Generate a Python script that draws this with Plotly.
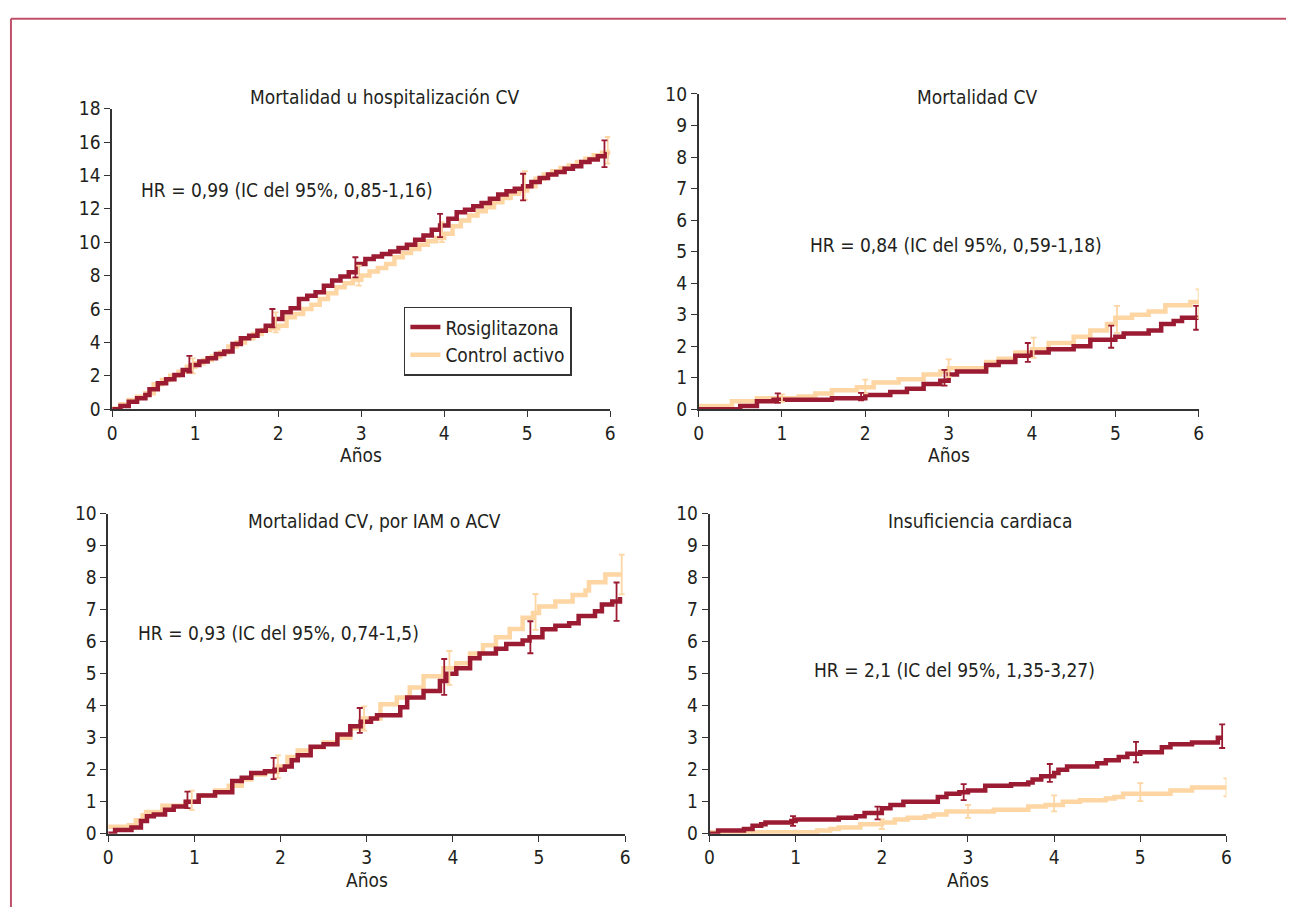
import plotly.graph_objects as go

W, H = 1291, 918
ROSI = "#9b1b33"
CTRL = "#fdd6a3"
FONT = "Liberation Sans Narrow, DejaVu Sans Condensed, Arial Narrow, sans-serif"
TXT = "#231f20"

# ---------------- data ----------------
# Panel 1: Mortalidad u hospitalización CV
p1_rosi_t = [0, 0.1, 0.2, 0.3, 0.4, 0.45, 0.55, 0.65, 0.75, 0.85, 0.95, 1.05, 1.15, 1.25, 1.35, 1.45, 1.55, 1.65, 1.75, 1.85, 1.95,
             2.05, 2.15, 2.25, 2.35, 2.45, 2.55, 2.65, 2.75, 2.85, 2.95, 3.05, 3.15, 3.25, 3.35, 3.45, 3.55, 3.65, 3.75, 3.85, 3.95,
             4.05, 4.15, 4.25, 4.35, 4.45, 4.55, 4.65, 4.75, 4.85, 4.95, 5.05, 5.15, 5.25, 5.35, 5.45, 5.55, 5.65, 5.75, 5.85, 5.95]
p1_rosi_y = [0, 0.2, 0.45, 0.65, 0.85, 1.2, 1.55, 1.8, 2.05, 2.35, 2.65, 2.85, 3.05, 3.3, 3.45, 3.9, 4.25, 4.4, 4.7, 5.0, 5.4,
             5.8, 6.05, 6.6, 6.8, 7.0, 7.4, 7.7, 7.95, 8.2, 8.7, 9.0, 9.15, 9.3, 9.45, 9.65, 9.85, 10.15, 10.4, 10.75, 11.0,
             11.4, 11.8, 11.95, 12.15, 12.35, 12.6, 12.85, 13.05, 13.2, 13.35, 13.6, 13.85, 14.05, 14.2, 14.4, 14.55, 14.8, 14.95, 15.15, 15.4]
p1_ctrl_t = [0, 0.1, 0.2, 0.3, 0.4, 0.5, 0.6, 0.7, 0.8, 0.9, 1.0, 1.1, 1.2, 1.3, 1.4, 1.5, 1.6, 1.7, 1.8, 1.9, 2.0,
             2.1, 2.2, 2.3, 2.4, 2.5, 2.6, 2.7, 2.8, 2.9, 3.0, 3.1, 3.2, 3.3, 3.4, 3.5, 3.6, 3.7, 3.8, 3.9, 4.0,
             4.1, 4.2, 4.3, 4.4, 4.5, 4.6, 4.7, 4.8, 4.9, 5.0, 5.1, 5.2, 5.3, 5.4, 5.5, 5.6, 5.7, 5.8, 5.9, 6.0]
p1_ctrl_y = [0.05, 0.3, 0.55, 0.75, 0.95, 1.5, 1.75, 2.0, 2.25, 2.55, 2.75, 2.95, 3.15, 3.4, 3.75, 4.0, 4.25, 4.5, 4.75, 4.85, 5.0,
             5.5, 5.7, 6.0, 6.25, 6.6, 6.95, 7.3, 7.55, 7.75, 8.0, 8.25, 8.45, 8.7, 9.1, 9.35, 9.6, 9.85, 10.05, 10.25, 10.5,
             10.95, 11.3, 11.6, 11.85, 12.1, 12.4, 12.65, 12.9, 13.1, 13.35, 13.8, 14.05, 14.25, 14.45, 14.6, 14.8, 15.0, 15.2, 15.35, 15.5]
p1_rosi_ci_t = [0.93, 1.93, 2.93, 3.95, 4.95, 5.93]
p1_rosi_ci_y = [2.7, 5.45, 8.5, 11.0, 13.3, 15.3]
p1_rosi_ci_e = [0.5, 0.55, 0.6, 0.7, 0.8, 0.8]
p1_ctrl_ci_t = [0.97, 1.97, 2.97, 3.97, 4.97, 5.97]
p1_ctrl_ci_y = [2.6, 5.2, 8.0, 10.6, 13.4, 15.5]
p1_ctrl_ci_e = [0.45, 0.6, 0.6, 0.6, 0.85, 0.8]

# Panel 2: Mortalidad CV
p2_rosi_t = [0, 0.5, 0.7, 0.9, 1.6, 2.0, 2.3, 2.5, 2.7, 2.9, 3.0, 3.1, 3.45, 3.6, 3.8, 4.0, 4.2, 4.5, 4.7, 5.0, 5.1, 5.4, 5.55, 5.7, 5.8, 6.0]
p2_rosi_y = [0, 0.1, 0.25, 0.3, 0.35, 0.45, 0.55, 0.65, 0.8, 0.9, 1.1, 1.2, 1.4, 1.5, 1.7, 1.8, 1.9, 2.0, 2.2, 2.3, 2.4, 2.5, 2.7, 2.8, 2.9, 2.9]
p2_ctrl_t = [0, 0.4, 0.7, 1.2, 1.4, 1.6, 1.9, 2.1, 2.4, 2.7, 2.9, 3.0, 3.45, 3.6, 3.8, 4.0, 4.2, 4.5, 4.7, 4.9, 5.0, 5.2, 5.4, 5.6, 5.9, 6.0]
p2_ctrl_y = [0.1, 0.25, 0.35, 0.4, 0.5, 0.6, 0.7, 0.85, 0.95, 1.1, 1.2, 1.3, 1.5, 1.6, 1.8, 1.9, 2.1, 2.3, 2.5, 2.7, 2.9, 3.0, 3.1, 3.3, 3.4, 3.4]
p2_rosi_ci_t = [0.95, 1.95, 2.95, 3.95, 4.95, 5.97]
p2_rosi_ci_y = [0.35, 0.4, 1.0, 1.8, 2.3, 2.9]
p2_rosi_ci_e = [0.15, 0.12, 0.25, 0.3, 0.35, 0.38]
p2_ctrl_ci_t = [1.0, 2.0, 3.0, 4.02, 5.02, 6.0]
p2_ctrl_ci_y = [0.35, 0.72, 1.3, 1.95, 2.85, 3.35]
p2_ctrl_ci_e = [0.12, 0.22, 0.28, 0.32, 0.43, 0.45]

# Panel 3: Mortalidad CV, por IAM o ACV
p3_rosi_t = [0, 0.08, 0.27, 0.38, 0.45, 0.53, 0.66, 0.76, 0.9, 1.05, 1.24, 1.44, 1.55, 1.66, 1.82, 1.93, 2.05, 2.13, 2.2, 2.35, 2.5,
             2.66, 2.81, 2.93, 3.05, 3.12, 3.39, 3.47, 3.66, 3.85, 3.93, 4.04, 4.2, 4.31, 4.5, 4.62, 4.81, 4.89, 5.04, 5.19, 5.35,
             5.46, 5.65, 5.73, 5.85, 5.94]
p3_rosi_y = [0, 0.12, 0.2, 0.4, 0.55, 0.6, 0.75, 0.85, 1.0, 1.2, 1.3, 1.65, 1.75, 1.9, 1.95, 2.0, 2.1, 2.3, 2.45, 2.72, 2.8,
             3.1, 3.36, 3.5, 3.6, 3.7, 3.95, 4.26, 4.46, 4.77, 5.0, 5.17, 5.48, 5.63, 5.78, 5.93, 6.04, 6.14, 6.39, 6.5, 6.58,
             6.8, 6.95, 7.16, 7.26, 7.4]
p3_ctrl_t = [0, 0.24, 0.32, 0.4, 0.44, 0.63, 0.9, 1.05, 1.24, 1.4, 1.55, 1.66, 1.82, 1.97, 2.08, 2.2, 2.35, 2.5, 2.66, 2.81,
             2.96, 3.16, 3.35, 3.5, 3.66, 3.89, 4.04, 4.2, 4.35, 4.5, 4.66, 4.81, 4.93, 5.0, 5.19, 5.39, 5.54, 5.58, 5.77, 5.96]
p3_ctrl_y = [0.22, 0.27, 0.42, 0.58, 0.68, 0.88, 1.0, 1.2, 1.35, 1.5, 1.7, 1.85, 1.93, 2.1, 2.4, 2.6, 2.7, 2.85, 3.0, 3.3,
             3.6, 4.05, 4.26, 4.57, 4.92, 5.17, 5.33, 5.63, 5.89, 6.14, 6.4, 6.75, 6.9, 7.1, 7.26, 7.46, 7.6, 7.86, 8.1, 8.1]
p3_rosi_ci_t = [0.92, 1.92, 2.92, 3.9, 4.9, 5.9]
p3_rosi_ci_y = [1.06, 2.04, 3.54, 4.9, 6.14, 7.25]
p3_rosi_ci_e = [0.26, 0.33, 0.39, 0.56, 0.5, 0.6]
p3_ctrl_ci_t = [0.97, 1.97, 2.97, 3.96, 4.96, 5.96]
p3_ctrl_ci_y = [1.05, 2.1, 3.6, 5.18, 6.93, 8.1]
p3_ctrl_ci_e = [0.3, 0.35, 0.38, 0.53, 0.56, 0.62]

# Panel 4: Insuficiencia cardiaca
p4_rosi_t = [0, 0.1, 0.4, 0.5, 0.6, 0.65, 0.95, 1.0, 1.5, 1.7, 1.8, 2.0, 2.1, 2.25, 2.65, 2.75, 2.9, 3.0, 3.2, 3.5, 3.7, 3.75, 3.85, 4.0, 4.05, 4.15, 4.5, 4.6, 4.75, 4.85, 5.0, 5.25, 5.35, 5.6, 5.9, 5.95]
p4_rosi_y = [0, 0.1, 0.15, 0.25, 0.3, 0.35, 0.4, 0.45, 0.5, 0.55, 0.65, 0.8, 0.9, 1.0, 1.15, 1.25, 1.3, 1.35, 1.5, 1.55, 1.6, 1.7, 1.8, 1.9, 2.0, 2.1, 2.2, 2.3, 2.4, 2.5, 2.55, 2.7, 2.8, 2.85, 3.0, 3.0]
p4_ctrl_t = [0, 1.2, 1.25, 1.4, 1.5, 1.75, 2.0, 2.15, 2.3, 2.5, 2.6, 2.75, 3.3, 3.7, 3.9, 4.1, 4.3, 4.6, 4.7, 4.8, 5.0, 5.35, 5.6, 6.0]
p4_ctrl_y = [0.05, 0.05, 0.1, 0.15, 0.2, 0.3, 0.35, 0.45, 0.5, 0.55, 0.6, 0.7, 0.75, 0.85, 0.9, 1.0, 1.05, 1.1, 1.15, 1.25, 1.25, 1.35, 1.45, 1.45]
p4_rosi_ci_t = [0.97, 1.95, 2.95, 3.95, 4.95, 5.95]
p4_rosi_ci_y = [0.4, 0.65, 1.3, 1.9, 2.55, 3.05]
p4_rosi_ci_e = [0.15, 0.2, 0.25, 0.28, 0.32, 0.37]
p4_ctrl_ci_t = [1.0, 2.0, 3.0, 4.0, 5.0, 6.0]
p4_ctrl_ci_y = [0.05, 0.3, 0.7, 0.95, 1.3, 1.45]
p4_ctrl_ci_e = [0.05, 0.15, 0.2, 0.25, 0.28, 0.28]

titles = ["Mortalidad u hospitalización CV", "Mortalidad CV",
          "Mortalidad CV, por IAM o ACV", "Insuficiencia cardiaca"]
hr_texts = ["HR = 0,99 (IC del 95%, 0,85-1,16)", "HR = 0,84 (IC del 95%, 0,59-1,18)",
            "HR = 0,93 (IC del 95%, 0,74-1,5)", "HR = 2,1 (IC del 95%, 1,35-3,27)"]
y_max = [18, 10, 10, 10]
y_dtick = [2, 1, 1, 1]
x_ticks = [0, 1, 2, 3, 4, 5, 6]
x_title = "Años"
series_names = ["Rosiglitazona", "Control activo"]

panels = [
    (p1_rosi_t, p1_rosi_y, p1_ctrl_t, p1_ctrl_y, p1_rosi_ci_t, p1_rosi_ci_y, p1_rosi_ci_e, p1_ctrl_ci_t, p1_ctrl_ci_y, p1_ctrl_ci_e),
    (p2_rosi_t, p2_rosi_y, p2_ctrl_t, p2_ctrl_y, p2_rosi_ci_t, p2_rosi_ci_y, p2_rosi_ci_e, p2_ctrl_ci_t, p2_ctrl_ci_y, p2_ctrl_ci_e),
    (p3_rosi_t, p3_rosi_y, p3_ctrl_t, p3_ctrl_y, p3_rosi_ci_t, p3_rosi_ci_y, p3_rosi_ci_e, p3_ctrl_ci_t, p3_ctrl_ci_y, p3_ctrl_ci_e),
    (p4_rosi_t, p4_rosi_y, p4_ctrl_t, p4_ctrl_y, p4_rosi_ci_t, p4_rosi_ci_y, p4_rosi_ci_e, p4_ctrl_ci_t, p4_ctrl_ci_y, p4_ctrl_ci_e),
]

# ---------------- layout geometry (pixels) ----------------
# (x_left, x_right, y_zero, y_top)
geo = [(108, 610, 408, 100), (699, 1203, 408, 85), (104, 625, 843, 515), (710, 1231, 843, 515)]
title_pos = [(383, 88), (980, 88), (372, 523), (983, 523)]
hr_pos = [(135, 183, "left"), (958, 240, "center"), (132, 637, "left"), (957, 675, "center")]

def px(x):
    return x / W

def py(y):
    return 1 - y / H

fig = go.Figure()
annotations = []
layout_axes = {}

for i, (rt, ry, ct, cy, rct, rcy, rce, cct, ccy, cce) in enumerate(panels):
    n = i + 1
    xa = "x" if n == 1 else f"x{n}"
    ya = "y" if n == 1 else f"y{n}"
    fig.add_trace(go.Scatter(x=ct, y=cy, mode="lines", line=dict(color=CTRL, width=4.5, shape="hv"),
                             name=series_names[1], showlegend=False, xaxis=xa, yaxis=ya))
    fig.add_trace(go.Scatter(x=rt, y=ry, mode="lines", line=dict(color=ROSI, width=4.5, shape="hv"),
                             name=series_names[0], showlegend=False, xaxis=xa, yaxis=ya))
    fig.add_trace(go.Scatter(x=cct, y=ccy, mode="markers", marker=dict(size=1, color=CTRL),
                             error_y=dict(type="data", array=cce, color=CTRL, thickness=1.8, width=3),
                             showlegend=False, xaxis=xa, yaxis=ya, hoverinfo="skip"))
    fig.add_trace(go.Scatter(x=rct, y=rcy, mode="markers", marker=dict(size=1, color=ROSI),
                             error_y=dict(type="data", array=rce, color=ROSI, thickness=1.8, width=3),
                             showlegend=False, xaxis=xa, yaxis=ya, hoverinfo="skip"))
    xl, xr, y0, yt = geo[i]
    axfmt = dict(showline=True, linecolor="#333333", linewidth=1.5, ticks="outside", ticklen=6,
                 tickwidth=1.3, tickcolor="#333333", showgrid=False, zeroline=False,
                 tickfont=dict(family=FONT, size=19, color=TXT), fixedrange=True)
    layout_axes["xaxis" if n == 1 else f"xaxis{n}"] = dict(
        domain=[px(xl), px(xr)], range=[0, 6], tickvals=x_ticks, anchor=ya, **axfmt)
    layout_axes["yaxis" if n == 1 else f"yaxis{n}"] = dict(
        domain=[py(y0), py(yt)], range=[0, y_max[i]], dtick=y_dtick[i], anchor=xa, **axfmt)
    tx, ty = title_pos[i]
    annotations.append(dict(text=titles[i], x=px(tx), y=py(ty), xref="paper", yref="paper",
                            xanchor="center", yanchor="middle", showarrow=False,
                            font=dict(family=FONT, size=19, color=TXT)))
    hx, hy, ha = hr_pos[i]
    annotations.append(dict(text=hr_texts[i], x=px(hx), y=py(hy), xref="paper", yref="paper",
                            xanchor=ha, yanchor="middle", showarrow=False,
                            font=dict(family=FONT, size=19, color=TXT)))
    annotations.append(dict(text=x_title, x=px((xl + xr) / 2), y=py(y0 + 47), xref="paper", yref="paper",
                            xanchor="center", yanchor="middle", showarrow=False,
                            font=dict(family=FONT, size=19, color=TXT)))

# legend entries
fig.add_trace(go.Scatter(x=[None], y=[None], mode="lines", line=dict(color=ROSI, width=4.5),
                         name=series_names[0], showlegend=True))
fig.add_trace(go.Scatter(x=[None], y=[None], mode="lines", line=dict(color=CTRL, width=4.5),
                         name=series_names[1], showlegend=True))

fig.update_layout(
    width=W, height=H, margin=dict(l=0, r=0, t=0, b=0, pad=0),
    paper_bgcolor="white", plot_bgcolor="white",
    font=dict(family=FONT, size=19, color=TXT),
    annotations=annotations,
    legend=dict(x=px(402), y=py(303), xanchor="left", yanchor="top",
                bordercolor="#333333", borderwidth=1.5, bgcolor="white",
                font=dict(family=FONT, size=19, color=TXT), tracegroupgap=0, itemwidth=30),
    shapes=[
        dict(type="line", xref="paper", yref="paper", x0=px(6), x1=1, y0=py(8), y1=py(8),
             line=dict(color="#c0506a", width=2)),
        dict(type="line", xref="paper", yref="paper", x0=px(6), x1=px(6), y0=py(8), y1=0,
             line=dict(color="#c0506a", width=2)),
    ],
    showlegend=True,
    **layout_axes,
)

fig.write_html("out.html")
